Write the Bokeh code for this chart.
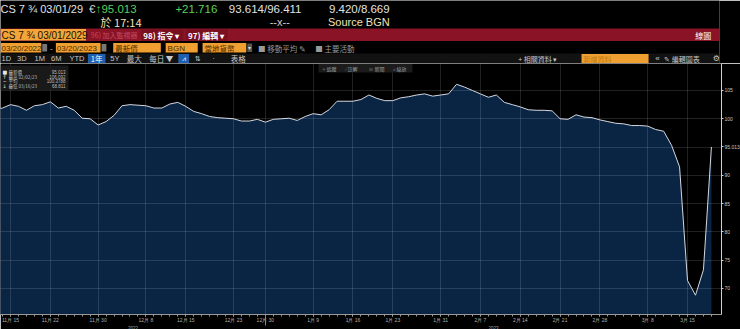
import pandas as pd
from bokeh.plotting import figure
from bokeh.models import FixedTicker, Label, BoxAnnotation, Range1d, ColumnDataSource, LinearAxis
from bokeh.layouts import column
from bokeh.embed import file_html
from bokeh.resources import INLINE
from bokeh.core.properties import value

# ---------------- data ----------------
holidays = ["2022-12-26"]
dates = [d for d in pd.bdate_range("2022-11-11", "2023-03-20") if d.strftime("%Y-%m-%d") not in holidays]

prices = [101.6, 101.9,
          102.5, 102.2, 101.5, 102.3, 102.5, 103.0, 101.9, 102.2, 101.5, 100.1,
          100.0, 98.9, 99.5, 100.6, 102.3, 102.5, 102.4, 102.3, 101.9, 101.9,
          102.6, 102.9, 102.2, 101.3, 100.9, 100.4, 100.2, 100.1, 100.0, 99.6,
          99.6, 99.9, 99.4, 99.9, 100.0, 100.1, 99.7, 100.4, 100.9, 100.7,
          101.6, 103.1, 103.1, 103.1, 103.4, 104.2, 103.6, 103.2, 103.2, 103.7,
          103.9, 104.2, 104.4, 104.0, 104.2, 104.4, 106.092, 105.6, 105.0, 104.4,
          103.8, 104.2, 102.9, 102.5, 102.1, 101.6, 101.5, 101.5, 101.4, 100.0,
          99.9, 100.7, 100.3, 100.2, 99.8, 99.5, 99.2, 99.1, 98.8, 98.8,
          98.7, 98.1, 97.8, 95.3, 91.5, 71.4, 68.811, 73.297, 95.013]
assert len(prices) == len(dates)

tick_dates = ["2022-11-15", "2022-11-22", "2022-11-30", "2022-12-08", "2022-12-15",
              "2022-12-23", "2022-12-30", "2023-01-09", "2023-01-16", "2023-01-23",
              "2023-01-31", "2023-02-07", "2023-02-14", "2023-02-21", "2023-02-28",
              "2023-03-08", "2023-03-15"]
tick_labels = ["11月 15", "11月 22", "11月 30", "12月 8", "12月 15", "12月 23", "12月 30",
               "1月 9", "1月 16", "1月 23", "1月 31", "2月 7", "2月 14", "2月 21",
               "2月 28", "3月 8", "3月 15"]
y_ticks = [70, 75, 80, 85, 90, 95, 100, 105]
years = ["2022", "2023"]
year_break = "2022-12-30"

legend_names = ["最新價", "最高 02/02/23", "平均", "最低 03/16/23"]
legend_values = ["95.013", "106.092", "100.3788", "68.811"]
legend_marks = ["■", "↑", "~", "↓"]
last_price = 95.013

date_str = [d.strftime("%Y-%m-%d") for d in dates]
xs = list(range(len(dates)))
tick_pos = [date_str.index(t) for t in tick_dates]
break_pos = date_str.index(year_break)

CJK = "Noto Sans CJK TC"
SANS = "Liberation Sans"

# ---------------- header ----------------
H = figure(width=740, height=63, x_range=Range1d(0, 740), y_range=Range1d(63, 0),
           output_backend="svg", toolbar_location=None, min_border=0,
           background_fill_color="black", border_fill_color="black", outline_line_color=None)
H.axis.visible = False
H.grid.visible = False


def box(l, r, t, b, color, line=None):
    H.quad(left=l, right=r, top=t, bottom=b, fill_color=color, line_color=line)


def txt(x, y, s, color="#e0e0e0", size="11px", font=SANS, align="left", style="normal"):
    H.text(x=[x], y=[y], text=[s], text_color=color, text_font_size=size,
           text_font=value(font), text_baseline="middle", text_align=align,
           text_font_style=style)


# row 1
txt(0, 8.5, "CS 7 ¾ 03/01/29", size="11px")
txt(91, 8.5, "€", color="#cfcfcf", size="11.5px")
txt(98, 8.5, "↑95.013", color="#5ccf5c", size="11.5px")
txt(180, 8.5, "+21.716", color="#5ccf5c", size="11.5px")
txt(235, 8.5, "93.614/96.411", size="11.5px")
txt(338, 8.5, "9.420/8.669", size="11.5px")
txt(103, 21.5, "於 17:14", color="#efe3b8", size="11px", font=CJK)
txt(277, 21.5, "--x--", color="#cfcfcf", size="11px")
txt(337, 21.5, "Source BGN", color="#efe3b8", size="11px")

# row 2 (red bar)
box(0, 740, 28, 40.5, "#8a1326")
box(0, 88, 28.5, 40, "#f4a53a")
txt(1, 34.5, "CS 7 ¾ 03/01/2029", color="#1a1000", size="10px")
txt(93, 34.5, "96) 加入監視器", color="#c24a5e", size="7px", font=CJK)
box(145, 188, 29, 40, "#7a0f20")
txt(147, 34.5, "98) 指令 ▾", color="#ffffff", size="8px", font=CJK, style="bold")
box(191, 234, 29, 40, "#7a0f20")
txt(193, 34.5, "97) 編輯 ▾", color="#ffffff", size="8px", font=CJK, style="bold")
txt(715, 34.5, "線圖", color="#ffffff", size="8px", font=CJK)

# row 3
OR = "#f0a030"
OT = "#4a2c00"
box(0, 42, 42.5, 52, OR)
txt(1, 47.5, "03/20/2022", color=OT, size="8px")
box(43, 48, 43.5, 51, "#777777")
txt(51, 47.5, "-", color="#cccccc", size="8px")
box(57, 103, 42.5, 52, OR)
txt(58, 47.5, "03/20/2023", color=OT, size="8px")
box(104, 109, 43.5, 51, "#777777")
box(116, 165, 42.5, 52, OR)
txt(118, 47.5, "最新價", color=OT, size="7.5px", font=CJK)
box(170, 203, 42.5, 52, OR)
txt(172, 47.5, "BGN", color=OT, size="8px")
box(208, 253, 42.5, 52, OR)
txt(210, 47.5, "當地貨幣", color=OT, size="7.5px", font=CJK)
box(254, 259, 43, 51.5, "#555555")
txt(256.5, 47.5, "▾", color="#dddddd", size="6px", align="center")
txt(265, 47.5, "■ 移動平均 ✎", color="#9a9a9a", size="7.5px", font=CJK)
txt(324, 47.5, "■ 主要活動", color="#9a9a9a", size="7.5px", font=CJK)

# row 4
box(0, 740, 53, 63, "#121212")
for x, s in [(1, "1D"), (17, "3D"), (35, "1M"), (52, "6M"), (71, "YTD"),
             (113, "5Y")]:
    txt(x, 58, s, color="#c8c8c8", size="7.5px")
box(90, 108, 53.5, 62.5, "#1f5fb0")
txt(99, 58, "1年", color="#ffffff", size="7.5px", font=CJK, align="center")
txt(130, 58, "最大", color="#c8c8c8", size="7.5px", font=CJK)
txt(153, 58, "每日 ▼", color="#c8c8c8", size="7.5px", font=CJK)
box(183, 194, 53.5, 62.5, "#1f5fb0")
txt(188.5, 58, "⩘", color="#ffffff", size="7px", align="center", font="DejaVu Sans")
txt(200, 58, "⇅", color="#c8c8c8", size="7px", font="DejaVu Sans")
txt(218, 58, "·", color="#c8c8c8", size="8px")
txt(237, 58, "表格", color="#c8c8c8", size="7.5px", font=CJK)
txt(533, 58, "+ 相關資料 ▾", color="#c8c8c8", size="7px", font=CJK)
box(598, 667, 53.5, 62.5, OR)
txt(600, 58, "新增資料", color="#c07a10", size="7px", font=CJK)
txt(674, 58, "«", color="#c8c8c8", size="8px")
txt(683, 58, "✎ 編輯圖表", color="#c8c8c8", size="7px", font=CJK)
txt(733, 58, "⚙", color="#c8c8c8", size="8px", font="DejaVu Sans")

# ---------------- chart ----------------
FW, FH = 721.0, 251.0
PX_PER_UNIT = 198.0 / 35.0
X0, X1 = 0.7445, 91.266
Y1 = 109.77
Y0 = Y1 - FH / PX_PER_UNIT


def px2x(px):
    return X0 + px / FW * (X1 - X0)


def py2y(py):
    return Y1 - (py - 63) / FH * (Y1 - Y0)


p = figure(frame_width=int(FW), frame_height=int(FH), x_range=Range1d(X0, X1), y_range=Range1d(Y0, Y1),
           output_backend="svg", toolbar_location=None, y_axis_location="right",
           min_border_left=0, min_border_right=0, min_border_top=0, min_border_bottom=0,
           background_fill_color="black", border_fill_color="black", outline_line_color=None)

src = ColumnDataSource(dict(x=xs, y=prices, base=[0] * len(xs)))
p.varea(x="x", y1="base", y2="y", source=src, fill_color="#0a2444")
p.line(x="x", y="y", source=src, line_color="#d4d8e0", line_width=1)

xt = FixedTicker(ticks=tick_pos, minor_ticks=xs)
p.xaxis.ticker = xt
p.xaxis.major_label_overrides = {pos: lab for pos, lab in zip(tick_pos, tick_labels)}
p.xaxis.major_label_text_font = SANS
p.xaxis.major_label_text_font_size = "5px"
p.xaxis.major_label_text_color = "#b0b0b0"
p.xaxis.major_label_standoff = 0
p.xaxis.axis_line_color = "#9a9a9a"
p.xaxis.major_tick_line_color = "#9a9a9a"
p.xaxis.minor_tick_line_color = "#9a9a9a"
p.xaxis.major_tick_out = 2
p.xaxis.major_tick_in = 0
p.xaxis.minor_tick_out = 2
p.xaxis.minor_tick_in = 0

# year axis
year_pos = [(X0 + break_pos) / 2, (break_pos + X1) / 2]
yax = LinearAxis(ticker=FixedTicker(ticks=year_pos, minor_ticks=[break_pos]),
                 major_label_overrides={pos: y for pos, y in zip(year_pos, years)},
                 major_label_text_font=SANS, major_label_text_font_size="4.5px",
                 major_label_text_color="#a8a8a8", major_label_standoff=0,
                 axis_line_color=None, major_tick_line_color=None,
                 major_tick_out=0, major_tick_in=0,
                 minor_tick_line_color="#8a8a8a", minor_tick_out=0, minor_tick_in=9)
p.add_layout(yax, "below")

axis_ticks = [t for t in y_ticks if t != 95] + [last_price]
p.yaxis.ticker = FixedTicker(ticks=axis_ticks, minor_ticks=[])
p.yaxis.major_label_overrides = {last_price: f"{last_price:.3f}"}
p.yaxis.major_label_text_font = SANS
p.yaxis.major_label_text_font_size = "5px"
p.yaxis.major_label_text_color = "#c8c8c8"
p.yaxis.major_label_standoff = 1
p.yaxis.axis_line_color = "#d0d0d0"
p.yaxis.major_tick_line_color = "#d0d0d0"
p.yaxis.major_tick_out = 2
p.yaxis.major_tick_in = 0

p.xgrid.ticker = xt
p.ygrid.ticker = FixedTicker(ticks=y_ticks)
for g in (p.xgrid, p.ygrid):
    g.grid_line_color = "#ffffff"
    g.grid_line_alpha = 0.13
    g.grid_line_width = 1
    g.level = "guide"

# legend box (top-left)
p.add_layout(BoxAnnotation(left=px2x(0), right=px2x(68), top=py2y(65), bottom=py2y(90),
                           fill_color="#1c1c1c", fill_alpha=0.9, line_color=None))
rows_y = [71, 76, 80.7, 85.7]
for yy, m, n, v in zip(rows_y, legend_marks, legend_names, legend_values):
    p.add_layout(Label(x=px2x(2), y=py2y(yy), text=m, text_color="#e8e8e8", text_font_size="5px",
                       text_font="DejaVu Sans", text_baseline="middle"))
    p.add_layout(Label(x=px2x(8), y=py2y(yy), text=n, text_color="#bdbdbd", text_font_size="4.5px",
                       text_font=CJK, text_baseline="middle"))
    p.add_layout(Label(x=px2x(65), y=py2y(yy), text=v, text_color="#bdbdbd", text_font_size="4.5px",
                       text_font=SANS, text_baseline="middle", text_align="right"))

# top tool strip
p.add_layout(BoxAnnotation(left=px2x(318), right=px2x(412), top=py2y(63.5), bottom=py2y(72),
                           fill_color="#1c1c1c", fill_alpha=0.95, line_color=None))
for x, s in [(322, "+ 追蹤"), (345, "⁄ 註解"), (368, "≡ 新聞"), (392, "⌕ 縮放")]:
    p.add_layout(Label(x=px2x(x), y=py2y(67.8), text=s, text_color="#a0a0a0", text_font_size="5px",
                       text_font=CJK, text_baseline="middle"))

layout = column(H, p, spacing=0)
open("out.html", "w").write(file_html(layout, INLINE))
